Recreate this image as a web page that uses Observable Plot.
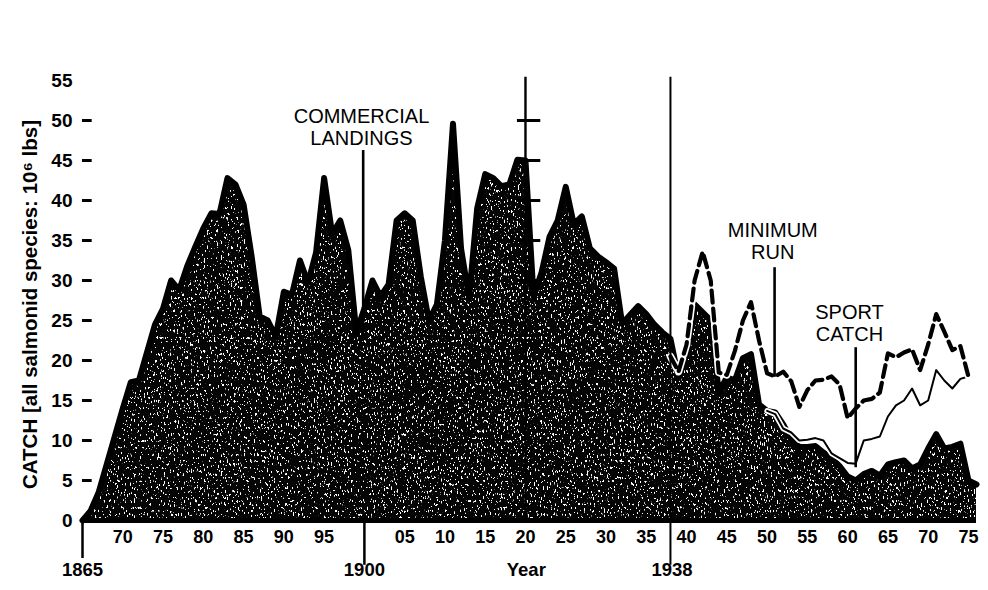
<!DOCTYPE html>
<html>
<head>
<meta charset="utf-8">
<script src="https://cdn.jsdelivr.net/npm/d3@7"></script>
<script src="https://cdn.jsdelivr.net/npm/@observablehq/plot@0.6"></script>
<style>
  html, body { margin: 0; padding: 0; background: #ffffff; }
  svg { display: block; }
</style>
</head>
<body>
<div id="chart"></div>
<script>
// ---------- DATA ----------
const commercialStartYear = 1865;
// Commercial landings, 10^6 lbs, one value per year 1865..1976
const commercialLandings = [
  0, 1.2, 3.5, 7, 10.5,                                   // 1865-1869
  14, 17.3, 17.5, 21, 24.5, 26.5, 30, 28.8, 31.8, 34.2,   // 1870s
  36.5, 38.4, 38.3, 42.8, 42, 39.5, 33, 25.5, 25, 23,     // 1880s
  28.6, 28.2, 32.5, 29.7, 33.5, 42.8, 35.8, 37.5, 33.8, 23.5, // 1890s
  26.5, 30, 28, 29.5, 37.5, 38.4, 37.5, 30.5, 25, 27,     // 1900s
  35, 49.6, 34, 27.8, 39, 43.3, 42.8, 41.8, 42, 45.1,     // 1910s
  45, 28, 31, 35.5, 37.5, 41.7, 37, 38, 34, 33,           // 1920s
  32.3, 31.5, 24.6, 25.7, 26.8, 25.8, 24.5, 23.5, 22.7, 17.8, // 1930s
  21, 27, 26, 25, 16, 17.9, 17.5, 20.3, 20.8, 14.5,       // 1940s
  13.7, 13.5, 12, 10.2, 9.2, 9.2, 9.3, 8.5, 7.8, 6.8,     // 1950s
  5.5, 5, 5.8, 6.2, 5.6, 7, 7.3, 7.5, 6.5, 7,             // 1960s
  9, 10.8, 9, 9.2, 9.6, 5, 4.5                            // 1970-1976
];

const minimumRunStartYear = 1938;
// Minimum run (dashed), 1938..1975
const minimumRun = [
  20.5, 18.6, 22, 30, 33.6, 30, 18.5, 18.2, 21.2, 25,     // 1938-1947
  27.3, 22.5, 18.4, 18, 18.6, 17.4, 14.2, 16.3, 17.5, 17.6, // 1948-1957
  18, 17, 12.8, 14, 15, 15.2, 16, 20.9, 20.4, 21,         // 1958-1967
  21.4, 18.8, 22, 25.8, 23.6, 21.3, 21.8, 18              // 1968-1975
];

const sportStartYear = 1950;
// Commercial + sport catch (thin line), 1950..1975
const sportPlusCommercial = [
  13.7, 13.3, 11.5, 11, 10, 10.1, 10.3, 10, 8.4, 7.8,     // 1950s
  7.2, 7.1, 10, 10.2, 10.5, 13, 14.4, 15, 16.5, 14.4,     // 1960s
  15, 18.8, 17.5, 16.5, 17.7, 18                          // 1970-1975
];

// ---------- AXIS / LABEL TEXT ----------
const yTickValues = [0, 5, 10, 15, 20, 25, 30, 35, 40, 45, 50, 55];
const yDashValues = [5, 10, 15, 20, 25, 30, 35, 40, 45, 50];
const xTickYears = [1870, 1875, 1880, 1885, 1890, 1895,
                    1905, 1910, 1915, 1920, 1925, 1930, 1935,
                    1940, 1945, 1950, 1955, 1960, 1965, 1970, 1975];
const lowerLabels = [
  {label: "1865", year: 1865},
  {label: "1900", year: 1900},
  {label: "Year", year: 1920.1},
  {label: "1938", year: 1938.2}
];
const markerTicks1920 = [30, 35, 40, 45, 50];
const yTitle = "CATCH [all salmonid species: 10\u2076 lbs]";

const annotations = [
  {label: "COMMERCIAL\nLANDINGS", year: 1899.64, value: 49.2},
  {label: "MINIMUM\nRUN",         year: 1950.7,  value: 34.95},
  {label: "SPORT\nCATCH",         year: 1960.23, value: 24.7}
];
const pointers = [
  {year: 1899.85, from: 46.25, to: 23},
  {year: 1950.93, from: 31.6,  to: 17.9},
  {year: 1961.0,  from: 21.6,  to: 6.6}
];
const dividers = [
  {year: 1865, from: 0,    to: -4.75, w: 2.5},
  {year: 1900, from: -5.6, to: 0,     w: 2.5},
  {year: 1920, from: 0,    to: 55.4,  w: 2.4},
  {year: 1938, from: -5.6, to: 55.4,  w: 2}
];

// ---------- BUILD ROWS ----------
const toRows = (start, vals) => vals.map((v, i) => ({year: start + i, value: v}));
const commercial = toRows(commercialStartYear, commercialLandings);
const minRun = toRows(minimumRunStartYear, minimumRun);
const sport = toRows(sportStartYear, sportPlusCommercial);
const [firstYear, lastYear] = d3.extent(commercial, d => d.year);

const font = "'Liberation Sans', Arial, Helvetica, sans-serif";

const chart = Plot.plot({
  width: 988,
  height: 590,
  marginLeft: 82,
  marginRight: 12,
  marginTop: 80,
  marginBottom: 70,
  x: {domain: [firstYear, lastYear], axis: null},
  y: {domain: [0, 55], axis: null},
  style: {fontFamily: font, background: "#ffffff", color: "#000"},
  marks: [
    // commercial landings area (speckled black)
    Plot.areaY(commercial, {x: "year", y: "value", fill: "url(#speck)"}),
    Plot.lineY(commercial, {x: "year", y: "value", stroke: "#000", strokeWidth: 6, strokeLinejoin: "round"}),
    // baseline
    Plot.ruleY([0], {x1: firstYear, x2: lastYear, stroke: "#000", strokeWidth: 5}),
    // sport + commercial thin line with white halo
    Plot.lineY(sport, {x: "year", y: "value", stroke: "#fff", strokeWidth: 5.5, strokeLinejoin: "round"}),
    Plot.lineY(sport, {x: "year", y: "value", stroke: "#000", strokeWidth: 2, strokeLinejoin: "round"}),
    // minimum run dashed line with white halo
    Plot.lineY(minRun, {x: "year", y: "value", stroke: "#fff", strokeWidth: 7.5, strokeDasharray: "14,4", strokeDashoffset: 1, strokeLinejoin: "round"}),
    Plot.lineY(minRun, {x: "year", y: "value", stroke: "#000", strokeWidth: 4.2, strokeDasharray: "12,6", strokeLinejoin: "round"}),
    // vertical dividers
    Plot.ruleX(dividers, {x: "year", y1: "from", y2: "to", stroke: "#000", strokeWidth: "w"}),
    // secondary ticks on the 1920 marker
    Plot.ruleY(markerTicks1920, {x1: 1919, x2: 1921.9, stroke: "#000", strokeWidth: 3}),
    // y tick dashes
    Plot.ruleY(yDashValues, {x1: firstYear, x2: firstYear + 1.2, stroke: "#000", strokeWidth: 3}),
    // y tick labels
    Plot.text(yTickValues, {y: d => d, text: d => String(d), frameAnchor: "left", textAnchor: "end",
      dx: -10, fontSize: 19, fontWeight: "bold", fill: "#000"}),
    // x tick labels (two-digit)
    Plot.text(xTickYears, {x: d => d, text: d => String(d % 100).padStart(2, "0"), frameAnchor: "bottom",
      dy: 22, fontSize: 18, fontWeight: "bold", fill: "#000"}),
    // lower labels
    Plot.text(lowerLabels, {x: "year", text: "label", frameAnchor: "bottom", dy: 55,
      fontSize: 18.5, fontWeight: "bold", fill: "#000"}),
    // annotation pointers and text
    Plot.ruleX(pointers, {x: "year", y1: "from", y2: "to", stroke: "#000", strokeWidth: 2.6}),
    Plot.text(annotations, {x: "year", y: "value", text: "label", fontSize: 20, lineHeight: 1.13, fill: "#000"}),
    // y-axis title
    Plot.text([yTitle], {frameAnchor: "left", textAnchor: "middle", dx: -52, dy: 4, rotate: -90,
      fontSize: 20.5, fontWeight: "bold", fill: "#000"})
  ]
});

const svg = d3.select(chart);
const defs = svg.insert("defs", ":first-child");
// speckle texture for the area fill
const filt = defs.append("filter").attr("id", "spk")
  .attr("filterUnits", "userSpaceOnUse").attr("x", 0).attr("y", 0).attr("width", 988).attr("height", 590);
filt.append("feTurbulence").attr("type", "fractalNoise").attr("baseFrequency", "0.7 0.3")
  .attr("numOctaves", 2).attr("seed", 7);
filt.append("feColorMatrix").attr("type", "matrix")
  .attr("values", "0 0 0 0 1  0 0 0 0 1  0 0 0 0 1  -22 0 0 0 8.0");
const pat = defs.append("pattern").attr("id", "speck").attr("patternUnits", "userSpaceOnUse")
  .attr("width", 988).attr("height", 590);
pat.append("rect").attr("width", 988).attr("height", 590).attr("fill", "#050505");
pat.append("rect").attr("width", 988).attr("height", 590).attr("filter", "url(#spk)");

document.getElementById("chart").appendChild(chart);
</script>
</body>
</html>
